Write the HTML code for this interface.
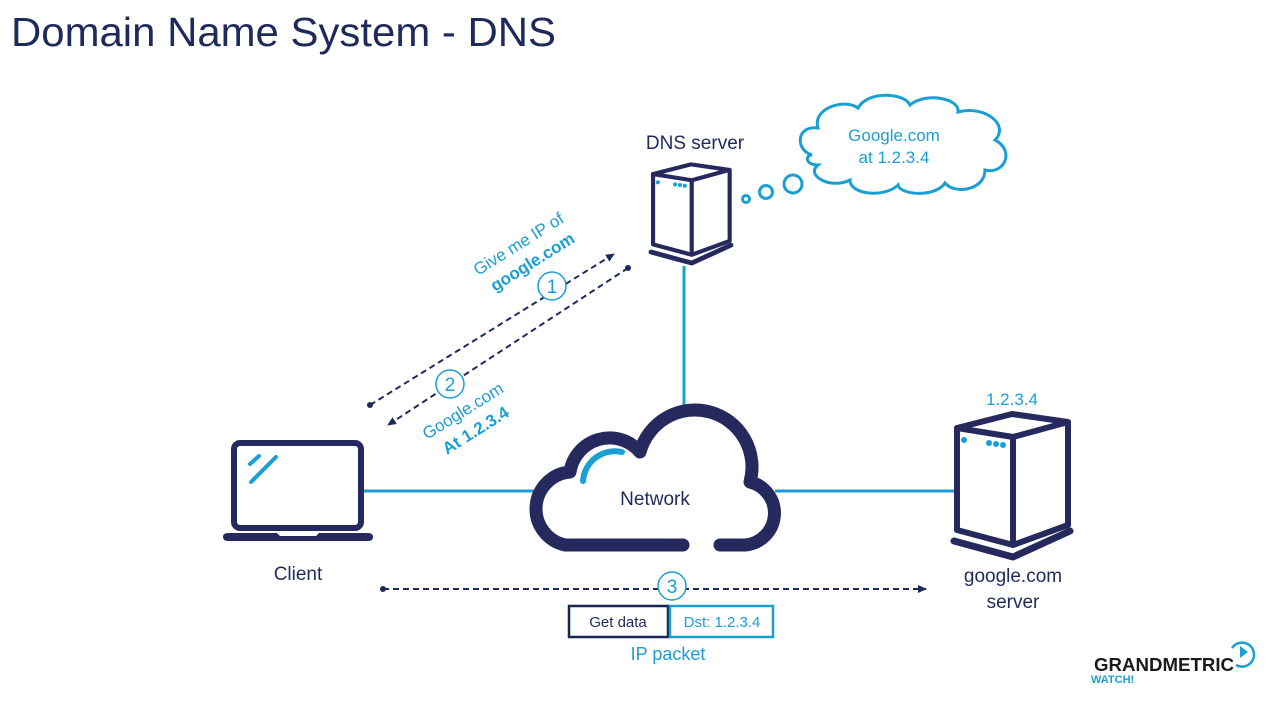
<!DOCTYPE html>
<html><head><meta charset="utf-8"><style>
html,body{margin:0;padding:0;background:#fff;}
svg{display:block;font-family:"Liberation Sans",sans-serif;}
</style></head><body>
<svg width="1280" height="720" viewBox="0 0 1280 720" xmlns="http://www.w3.org/2000/svg">
<defs>
<marker id="ah" markerWidth="10" markerHeight="10" refX="8" refY="5" orient="auto" markerUnits="userSpaceOnUse"><path d="M0,1 L9,5 L0,9 Z" fill="#1f2a5c"/></marker>
<g id="srv">
<path d="M957,428 L1012,414 L1068,422 L1068,525 L1013,545 L957,530 Z" fill="#fff" stroke="#26295e" stroke-width="6" stroke-linejoin="round"/>
<path d="M957,428 L1013,437 L1068,422 M1013,437 L1013,545" fill="none" stroke="#26295e" stroke-width="6" stroke-linejoin="round"/>
<path d="M954,541 L1013,557 L1070,531" fill="none" stroke="#26295e" stroke-width="7" stroke-linecap="round" stroke-linejoin="round"/>
<circle cx="964" cy="440" r="3" fill="#1a9fd4"/>
<circle cx="989" cy="443" r="3" fill="#1a9fd4"/><circle cx="996" cy="444" r="3" fill="#1a9fd4"/><circle cx="1003" cy="445" r="3" fill="#1a9fd4"/>
</g>
</defs>
<text x="11" y="46" font-size="41" fill="#1f2a5c" textLength="545" lengthAdjust="spacingAndGlyphs">Domain Name System - DNS</text>

<g stroke="#1a9fd4" stroke-width="3">
<line x1="362" y1="491" x2="537" y2="491"/>
<line x1="775" y1="491" x2="954" y2="491"/>
<line x1="684" y1="266" x2="684" y2="410"/>
</g>

<rect x="234" y="443" width="127" height="85" rx="6" fill="#fff" stroke="#26295e" stroke-width="6"/>
<path d="M228,533 L277,533 L280,536 L316,536 L319,533 L368,533 Q373,533 373,537 Q373,541 368,541 L228,541 Q223,541 223,537 Q223,533 228,533 Z" fill="#26295e"/>
<g stroke="#1a9fd4" stroke-width="4" stroke-linecap="round"><line x1="250" y1="464" x2="259" y2="456"/><line x1="251" y1="482" x2="276" y2="457"/></g>
<text x="298" y="580" font-size="19" fill="#1f2a5c" text-anchor="middle">Client</text>

<path d="M683,545 L565,545 A37,37 0 0 1 570,472 A40,40 0 0 1 640,452 A57,57 0 0 1 750,482 A32,32 0 0 1 745,545 L720,545" fill="#fff" stroke="#26295e" stroke-width="13" stroke-linecap="round" stroke-linejoin="round"/>
<path d="M583,481 A32,32 0 0 1 622,452" fill="none" stroke="#1a9fd4" stroke-width="6" stroke-linecap="round"/>
<text x="655" y="505" font-size="19" fill="#1f2a5c" text-anchor="middle">Network</text>

<use href="#srv"/>
<text x="1012" y="405" font-size="17" fill="#1a9fd4" text-anchor="middle">1.2.3.4</text>
<text x="1013" y="582" font-size="19" fill="#1f2a5c" text-anchor="middle">google.com</text>
<text x="1013" y="608" font-size="19" fill="#1f2a5c" text-anchor="middle">server</text>

<g transform="translate(651,163) scale(0.69) translate(-954,-412)"><use href="#srv"/></g>
<text x="695" y="149" font-size="19" fill="#1f2a5c" text-anchor="middle">DNS server</text>

<circle cx="746" cy="199" r="3.5" fill="none" stroke="#1a9fd4" stroke-width="3"/>
<circle cx="766" cy="192" r="6.5" fill="none" stroke="#1a9fd4" stroke-width="3"/>
<circle cx="793" cy="184" r="9" fill="none" stroke="#1a9fd4" stroke-width="3"/>
<path d="M812,155 C795,150 796,125 818,128 C812,108 845,98 858,108 C868,90 905,93 910,105 C925,92 960,98 958,112 C985,105 1010,125 995,140 C1015,150 1005,175 985,170 C985,190 955,195 945,183 C935,198 900,195 898,185 C885,198 850,195 850,180 C830,190 805,175 818,165 C805,165 805,155 812,155 Z" fill="#fff" stroke="#1a9fd4" stroke-width="3"/>
<text x="894" y="141" font-size="17" fill="#1a9fd4" text-anchor="middle">Google.com</text>
<text x="894" y="163" font-size="17" fill="#1a9fd4" text-anchor="middle">at 1.2.3.4</text>

<g stroke="#1f2a5c" stroke-width="2" stroke-dasharray="6,4" fill="none">
<line x1="370" y1="405" x2="614" y2="254" marker-end="url(#ah)"/>
<line x1="628" y1="268" x2="388" y2="425" marker-end="url(#ah)"/>
<line x1="383" y1="589" x2="926" y2="589" marker-end="url(#ah)"/>
</g>
<circle cx="370" cy="405" r="3" fill="#1f2a5c"/>
<circle cx="628" cy="268" r="3" fill="#1f2a5c"/>
<circle cx="383" cy="589" r="3" fill="#1f2a5c"/>
<g fill="#fff" stroke="#1a9fd4" stroke-width="1.5">
<circle cx="552" cy="286" r="14"/><circle cx="450" cy="384" r="14"/><circle cx="672" cy="586" r="14"/>
</g>
<g fill="#1a9fd4" font-size="19" text-anchor="middle">
<text x="552" y="293">1</text><text x="450" y="391">2</text><text x="672" y="593">3</text>
</g>
<g fill="#1a9fd4" font-size="17">
<text transform="translate(478,276) rotate(-32)">Give me IP of</text>
<text transform="translate(495,292) rotate(-32)" font-weight="bold">google.com</text>
<text transform="translate(427,440) rotate(-32)">Google.com</text>
<text transform="translate(447,455) rotate(-32)" font-weight="bold">At 1.2.3.4</text>
</g>

<rect x="569" y="606" width="99" height="31" fill="#fff" stroke="#1a2550" stroke-width="2.5"/>
<rect x="670" y="606" width="103" height="31" fill="#fff" stroke="#1a9fd4" stroke-width="2.5"/>
<text x="618" y="627" font-size="15" fill="#1f2a5c" text-anchor="middle">Get data</text>
<text x="722" y="627" font-size="15" fill="#1a9fd4" text-anchor="middle">Dst: 1.2.3.4</text>
<text x="668" y="660" font-size="18" fill="#1a9fd4" text-anchor="middle">IP packet</text>

<text x="1094" y="671" font-size="18" font-weight="bold" fill="#1a1a1a" textLength="140" lengthAdjust="spacingAndGlyphs">GRANDMETRIC</text>
<text x="1091" y="683" font-size="11" font-weight="bold" fill="#1a9fd4">WATCH!</text>
<path d="M1236,665 A12,12 0 1 0 1232,648" fill="none" stroke="#1a9fd4" stroke-width="2.5"/>
<path d="M1240,646 L1248,652 L1240,658 Z" fill="#1a9fd4"/>
</svg>
</body></html>
